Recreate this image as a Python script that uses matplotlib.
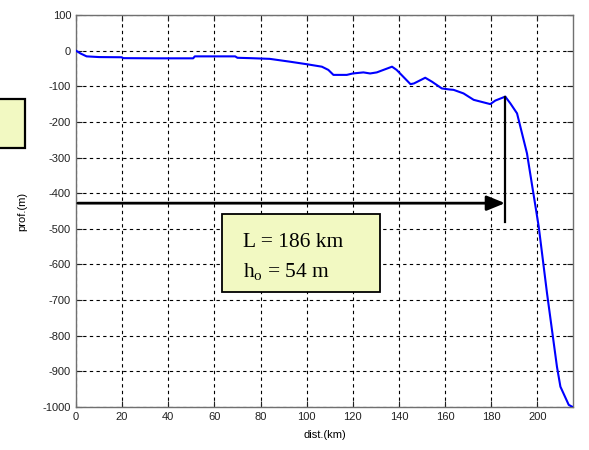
import matplotlib.pyplot as plt
from matplotlib.patches import Rectangle

plt.rcParams["axes.unicode_minus"] = False
plt.rcParams["mathtext.fontset"] = "custom"
plt.rcParams["mathtext.rm"] = "Liberation Serif"
plt.rcParams["mathtext.it"] = "Liberation Serif:italic"

# depth profile: distance (km) | depth (m)
dist = [0, 2, 4.6, 10, 19.8, 20.5, 35, 50.8, 51.5, 60, 69, 70, 75.5, 84, 92.8,
        100, 106.6, 109.4, 111.6, 117.4, 120, 124.6, 127.5, 130.4, 137, 139,
        145, 146.5, 151.4, 154.3, 158.6, 162, 163.7, 168, 172.4, 179.6, 181.8,
        186.1, 188.3, 191.2, 195.5, 200.6, 204.2, 208.5, 210, 213.6, 215.3]
depth = [0, -8, -16, -18, -18.5, -21, -21.5, -21.5, -16, -16, -16, -20, -21, -23, -31,
         -38, -45, -54, -68, -68, -64, -61, -64, -61, -45, -54,
         -94, -92, -76, -87, -106, -109, -110, -120, -138, -150, -140,
         -129, -148, -176, -288, -494, -681, -887, -943, -994, -1000]

L_KM = 186
ARROW_Y = -428
VLINE_BOTTOM = -480
ANNOT = ["L = 186 km", r"h$_{\rm o}$ = 54 m"]

xticks = list(range(0, 201, 20))
yticks = list(range(-1000, 101, 100))

fig = plt.figure(figsize=(5.89, 4.5), dpi=100)
ax = fig.add_axes([0.129, 0.0956, 0.844, 0.871])

ax.plot(dist, depth, color="#0000ff", lw=1.5, zorder=3)

# arrow and vertical marker at L
ax.annotate("", xy=(L_KM, ARROW_Y), xytext=(0.8, ARROW_Y),
            arrowprops=dict(arrowstyle="-|>,head_length=1.1,head_width=0.45",
                            color="black", lw=2, shrinkA=0, shrinkB=0),
            zorder=4)
ax.plot([L_KM, L_KM], [-129, VLINE_BOTTOM], color="black", lw=1.6, zorder=4)

ax.set_xlim(0, 215.5)
ax.set_ylim(-1000, 100)
ax.set_xticks(xticks)
ax.set_yticks(yticks)
ax.tick_params(direction="in", length=4, labelsize=8, colors="#222222",
               top=True, right=True)
for lab in ax.get_xticklabels() + ax.get_yticklabels():
    lab.set_family("Liberation Sans")
ax.grid(True, color="black", linestyle=(0, (3, 3)), lw=0.8)
for s in ax.spines.values():
    s.set_color("#707070")
    s.set_linewidth(1.0)

ax.set_xlabel("dist.(km)", fontsize=8, family="Liberation Sans", labelpad=6)
ax.set_ylabel("prof.(m)", fontsize=8, family="Liberation Sans", labelpad=11)

# annotation box
fig.patches.append(Rectangle((222 / 589, 1 - 291.7 / 450), 158 / 589, 77.7 / 450,
                             transform=fig.transFigure, facecolor="#f2f9c2",
                             edgecolor="black", lw=1.3, zorder=5))
fig.text(243 / 589, 1 - 246.7 / 450, ANNOT[0], family="Liberation Serif",
         fontsize=15.5, va="baseline", zorder=6)
fig.text(243 / 589, 1 - 276.7 / 450, ANNOT[1], family="Liberation Serif",
         fontsize=15.5, va="baseline", zorder=6)

# clipped box on the left edge
fig.patches.append(Rectangle((-10 / 589, 1 - 148 / 450), 35 / 589, 49 / 450,
                             transform=fig.transFigure, facecolor="#f2f9c2",
                             edgecolor="black", lw=1.6, zorder=5))

fig.savefig("out.png", dpi=100)
